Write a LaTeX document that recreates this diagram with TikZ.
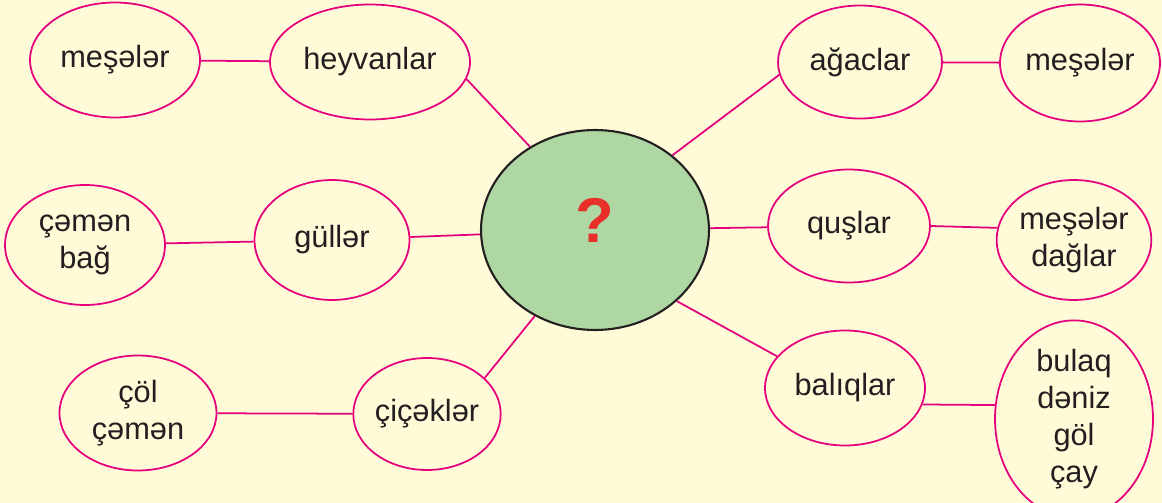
\documentclass[tikz,border=0pt]{standalone}
\usepackage{fontspec}
\setmainfont{Liberation Sans}
\usetikzlibrary{shapes.geometric}
\definecolor{bgyellow}{HTML}{FFFBD8}
\definecolor{pinkline}{HTML}{E5007D}
\definecolor{circgreen}{HTML}{AFD7A3}
\definecolor{qred}{HTML}{E8302A}
\definecolor{textgray}{HTML}{231F20}
\begin{document}
\begin{tikzpicture}[x=0.02cm,y=-0.02cm,
  word/.style={ellipse,draw=pinkline,line width=1pt,fill=bgyellow,inner sep=0pt,
    align=center,text=textgray,font=\fontsize{17.5}{21}\selectfont},
  link/.style={draw=pinkline,line width=1pt}]
  \fill[bgyellow] (0,0) rectangle (1162,503);
  \useasboundingbox (0,0) rectangle (1162,503);
  % centre
  \node[ellipse,draw=textgray,line width=1.2pt,fill=circgreen,minimum width=4.56cm,
    minimum height=4cm,text depth=11pt,text=qred,font=\fontsize{36}{40}\selectfont\bfseries] (q) at (595,230) {?};
  % left side
  \node[word,minimum width=3.4cm,minimum height=2.3cm] (mesL) at (115,60) {meşələr};
  \node[word,minimum width=4cm,minimum height=2.3cm] (heyv) at (370,62) {heyvanlar};
  \node[word,minimum width=3.2cm,minimum height=2.4cm] (cemen) at (85,245) {çəmən\\bağ};
  \node[word,minimum width=3.1cm,minimum height=2.4cm] (gull) at (332,240) {güllər};
  \node[word,minimum width=3.14cm,minimum height=2.3cm] (col) at (138,413) {çöl\\çəmən};
  \node[word,minimum width=2.94cm,minimum height=2.24cm] (cicek) at (427,414) {çiçəklər};
  % right side
  \node[word,minimum width=3.28cm,minimum height=2.26cm] (agac) at (860,62) {ağaclar};
  \node[word,minimum width=3.2cm,minimum height=2.34cm] (mesR) at (1080,63) {meşələr};
  \node[word,minimum width=3.24cm,minimum height=2.26cm] (qus) at (849,226) {quşlar};
  \node[word,minimum width=2.96cm,minimum height=2.4cm] (mesD) at (1074,240) {meşələr\\dağlar};
  \node[word,minimum width=3.2cm,minimum height=2.3cm] (baliq) at (845,388) {balıqlar};
  \node[word,minimum width=3.16cm,minimum height=3.24cm] (bulaq) at (1074,419) {bulaq\\dəniz\\göl\\çay};
  % links
  \draw[link] (mesL) -- (heyv);
  \draw[link] (heyv.-10) -- (q.128);
  \draw[link] (cemen) -- (gull);
  \draw[link] (gull) -- (q);
  \draw[link] (col) -- (cicek);
  \draw[link] (cicek.32) -- (q.235);
  \draw[link] (agac.189) -- (q.44);
  \draw[link] (agac) -- (mesR);
  \draw[link] (qus) -- (q);
  \draw[link] (qus.0) -- (mesD.171);
  \draw[link] (baliq.155) -- (q.-41);
  \draw[link] (baliq.-12) -- (bulaq.170);
\end{tikzpicture}
\end{document}
